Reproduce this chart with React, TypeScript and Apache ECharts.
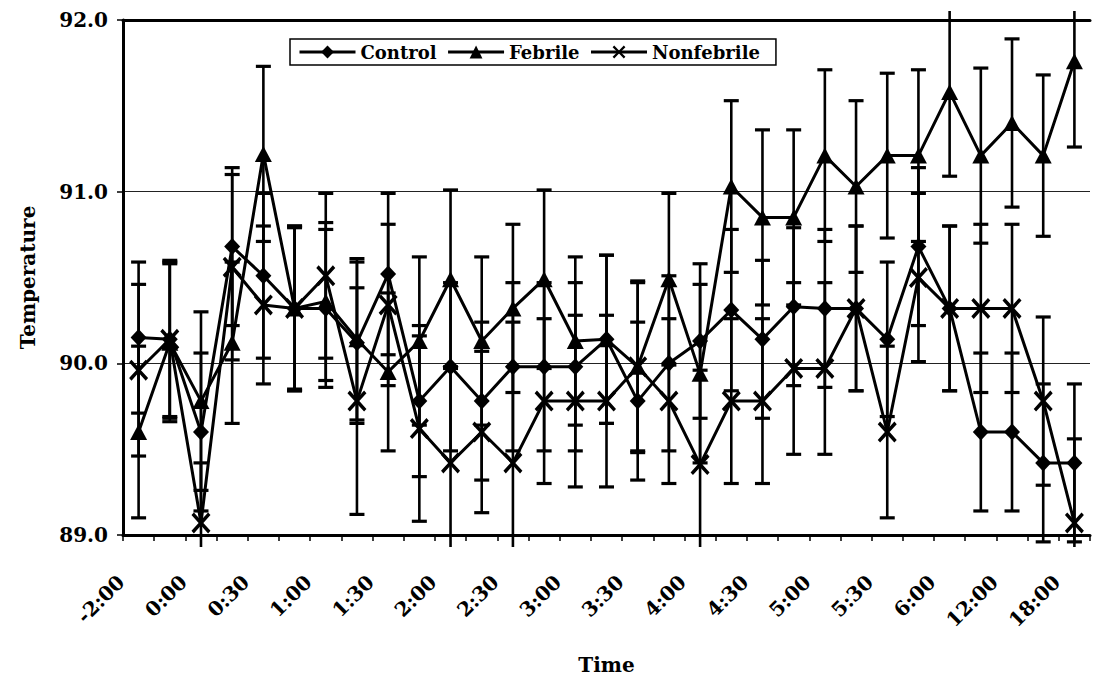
import React, { useEffect, useRef } from 'react';
import * as echarts from 'echarts';

const categories = ['-2:00','-1:00','0:00','0:15','0:30','0:45','1:00','1:15','1:30','1:45','2:00','2:15','2:30','2:45','3:00','3:15','3:30','3:45','4:00','4:15','4:30','4:45','5:00','5:15','5:30','5:45','6:00','9:00','12:00','15:00','18:00'];

const control = [90.15, 90.14, 89.60, 90.68, 90.51, 90.32, 90.32, 90.12, 90.52, 89.78, 89.98, 89.78, 89.98, 89.98, 89.98, 90.14, 89.78, 90.00, 90.13, 90.31, 90.14, 90.33, 90.32, 90.32, 90.14, 90.68, 90.32, 89.60, 89.60, 89.42, 89.42];
const febrile = [89.60, 90.12, 89.78, 90.12, 91.22, 90.32, 90.36, 90.14, 89.95, 90.13, 90.49, 90.13, 90.32, 90.49, 90.13, 90.14, 89.98, 90.49, 89.94, 91.03, 90.85, 90.85, 91.21, 91.03, 91.21, 91.21, 91.58, 91.21, 91.40, 91.21, 91.76];
const nonfebrile = [89.96, 90.14, 89.07, 90.56, 90.34, 90.32, 90.51, 89.78, 90.34, 89.62, 89.42, 89.60, 89.42, 89.78, 89.78, 89.78, 89.98, 89.78, 89.41, 89.78, 89.78, 89.97, 89.97, 90.32, 89.60, 90.50, 90.32, 90.32, 90.32, 89.78, 89.07];

const controlErr = [0.44, 0.46, 0.46, 0.46, 0.48, 0.48, 0.46, 0.47, 0.47, 0.44, 0.49, 0.46, 0.49, 0.49, 0.49, 0.49, 0.46, 0.51, 0.45, 0.47, 0.46, 0.46, 0.46, 0.48, 0.45, 0.46, 0.48, 0.46, 0.46, 0.46, 0.46];
const febrileErr = [0.50, 0.46, 0.52, 0.47, 0.51, 0.48, 0.46, 0.47, 0.46, 0.49, 0.52, 0.49, 0.49, 0.52, 0.49, 0.49, 0.50, 0.50, 0.52, 0.50, 0.51, 0.51, 0.50, 0.50, 0.48, 0.50, 0.49, 0.51, 0.49, 0.47, 0.50];
const nonfebrileErr = [0.50, 0.45, 0.35, 0.54, 0.46, 0.47, 0.48, 0.66, 0.47, 0.54, 0.56, 0.47, 0.82, 0.48, 0.50, 0.50, 0.49, 0.48, 0.55, 0.48, 0.48, 0.50, 0.50, 0.48, 0.50, 0.49, 0.48, 0.49, 0.49, 0.49, 0.49];

const yTicks = [89, 90, 91, 92];

const FONT = '"DejaVu Serif", "Liberation Serif", serif';
const X_SYMBOL = 'path://M0,2.5L2.5,0L10,7.5L17.5,0L20,2.5L12.5,10L20,17.5L17.5,20L10,12.5L2.5,20L0,17.5L7.5,10Z';

function errorSeries(name: string, values: number[], errs: number[]) {
  return {
    name,
    type: 'custom',
    z: 2,
    silent: true,
    data: values.map((v, i) => [i, v, errs[i]]),
    encode: { x: 0, y: 1 },
    renderItem: (params: any, api: any) => {
      const i = api.value(0);
      const v = api.value(1);
      const e = api.value(2);
      const p1 = api.coord([i, v + e]);
      const p2 = api.coord([i, v - e]);
      const cs = params.coordSys;
      const lo = cs.y - 9;
      const hi = cs.y + cs.height + 12;
      const x = p1[0];
      const y1 = Math.max(p1[1], lo);
      const y2 = Math.min(p2[1], hi);
      const hw = 7.5;
      const children: any[] = [
        { type: 'line', shape: { x1: x, y1, x2: x, y2 }, style: { stroke: '#000', lineWidth: 2.6 } },
      ];
      if (p1[1] >= lo) {
        children.push({ type: 'line', shape: { x1: x - hw, y1: p1[1], x2: x + hw, y2: p1[1] }, style: { stroke: '#000', lineWidth: 3.2 } });
      }
      if (p2[1] <= hi) {
        children.push({ type: 'line', shape: { x1: x - hw, y1: p2[1], x2: x + hw, y2: p2[1] }, style: { stroke: '#000', lineWidth: 3.2 } });
      }
      return { type: 'group', children };
    },
  };
}

function lineSeries(name: string, values: number[], symbol: string, size: any) {
  return {
    name,
    type: 'line',
    data: values,
    z: 3,
    symbol,
    symbolSize: size,
    showAllSymbol: true,
    lineStyle: { color: '#000', width: 3 },
    itemStyle: { color: '#000' },
  };
}

export default function App() {
  const ref = useRef<HTMLDivElement>(null);
  useEffect(() => {
    if (!ref.current) return;
    const chart = echarts.init(ref.current, null, { renderer: 'svg' });
    const textBase = { fontFamily: FONT, fontWeight: 'bold', color: '#000' };
    chart.setOption({
      animation: false,
      backgroundColor: '#fff',
      grid: { left: 123, right: 3, top: 20, bottom: 148, containLabel: false },
      legend: {
        data: ['Control', 'Febrile', 'Nonfebrile'],
        left: 290,
        top: 39,
        orient: 'horizontal',
        itemWidth: 56,
        itemHeight: 16,
        itemGap: 10,
        padding: [4, 16, 4, 8],
        borderColor: '#000',
        borderWidth: 1.5,
        lineStyle: { width: 3, color: '#000' },
        textStyle: { ...textBase, fontSize: 18 },
      },
      xAxis: [
        {
          type: 'category',
          data: categories,
          boundaryGap: true,
          axisLine: { onZero: false, lineStyle: { color: '#000', width: 3 } },
          axisTick: { show: true, interval: 0, length: 6, lineStyle: { color: '#000', width: 1.5 } },
          axisLabel: { ...textBase, interval: 1, rotate: 45, margin: 26, fontSize: 20, padding: [0, 25, 0, 0] },
          splitLine: { show: false },
          name: 'Time',
          nameLocation: 'middle',
          nameGap: 120,
          nameTextStyle: { ...textBase, color: '#000000', fontSize: 20 },
        },
        {
          type: 'category',
          data: categories,
          position: 'top',
          axisLine: { onZero: false, lineStyle: { color: '#000', width: 3 } },
          axisTick: { show: false },
          axisLabel: { show: false },
          splitLine: { show: false },
        },
      ],
      yAxis: {
        type: 'value',
        min: yTicks[0],
        max: yTicks[yTicks.length - 1],
        interval: 1,
        axisLine: { show: true, lineStyle: { color: '#000', width: 3 } },
        axisTick: { show: true, length: 6, lineStyle: { color: '#000', width: 1.5 } },
        axisLabel: { ...textBase, fontSize: 20, margin: 15, formatter: (v: number) => v.toFixed(1) },
        splitLine: { show: true, lineStyle: { color: '#222', width: 1 } },
        name: 'Temperature',
        nameLocation: 'middle',
        nameGap: 85,
        nameTextStyle: { ...textBase, color: '#000000', fontSize: 20 },
      },
      series: [
        errorSeries('Control SE', control, controlErr),
        errorSeries('Febrile SE', febrile, febrileErr),
        errorSeries('Nonfebrile SE', nonfebrile, nonfebrileErr),
        lineSeries('Control', control, 'diamond', [16, 17]),
        lineSeries('Febrile', febrile, 'triangle', [17, 16]),
        lineSeries('Nonfebrile', nonfebrile, X_SYMBOL, [19, 21]),
      ],
    });
    return () => chart.dispose();
  }, []);
  return <div ref={ref} style={{ position: 'fixed', left: 0, top: 0, width: 1093, height: 683, background: '#fff' }} />;
}
